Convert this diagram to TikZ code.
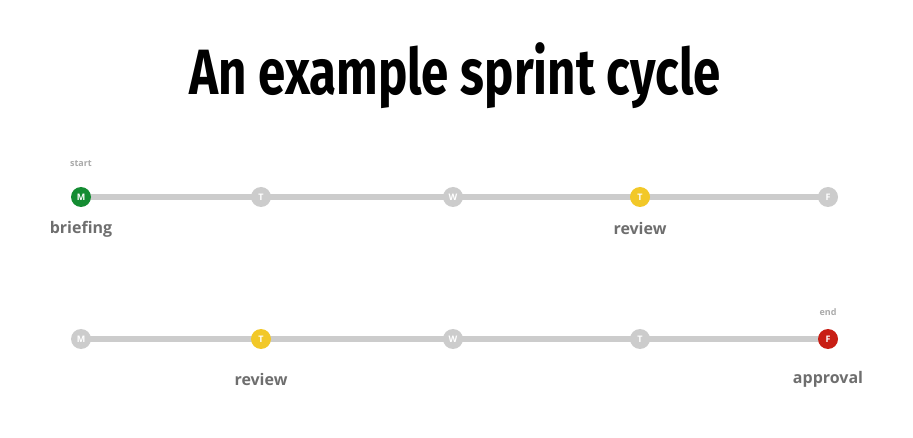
\documentclass[tikz,border=0pt]{standalone}
\usepackage{fontspec}
\setmainfont{Open Sans}
\newfontfamily\titlefont{Fira Sans}
\definecolor{lg}{RGB}{204,204,204}
\definecolor{gr}{RGB}{20,140,50}
\definecolor{ye}{RGB}{242,200,40}
\definecolor{rd}{RGB}{200,30,20}
\definecolor{tx}{RGB}{110,110,110}
\definecolor{sm}{RGB}{170,170,170}
\begin{document}
\begin{tikzpicture}[x=1pt,y=-1pt,
  day/.style={circle,fill=#1,minimum size=20pt,inner sep=0pt,text=white,font=\bfseries\fontsize{9}{9}\selectfont},
  lbl/.style={text=tx,font=\bfseries\fontsize{16}{16}\selectfont},
  tiny/.style={text=sm,font=\bfseries\fontsize{9}{9}\selectfont},
  track/.style={draw=lg,line width=6pt}]
\useasboundingbox (0,0) rectangle (913,438);
\node (title) at (455,76) {\scalebox{0.77}[1]{\titlefont\bfseries\fontsize{64}{64}\selectfont An example sprint cycle}};
\foreach \r/\y in {a/197,b/339}{
  \coordinate (\r1) at (81,\y); \coordinate (\r5) at (828,\y);
  \draw[track] (\r1) -- (\r5);
}
\node[day=gr] (a1) at (81,197) {M};
\node[day=lg] (a2) at (261,197) {T};
\node[day=lg] (a3) at (453,197) {W};
\node[day=ye] (a4) at (640,197) {T};
\node[day=lg] (a5) at (828,197) {F};
\node[day=lg] (b1) at (81,339) {M};
\node[day=ye] (b2) at (261,339) {T};
\node[day=lg] (b3) at (453,339) {W};
\node[day=lg] (b4) at (640,339) {T};
\node[day=rd] (b5) at (828,339) {F};
\node[tiny] (s) at (81,164) {start};
\node[tiny] (e) at (828,312) {end};
\node[lbl] (l1) at (81,229) {briefing};
\node[lbl] (l2) at (640,229) {review};
\node[lbl] (l3) at (261,379) {review};
\node[lbl] (l4) at (828,379) {approval};
\end{tikzpicture}
\end{document}
